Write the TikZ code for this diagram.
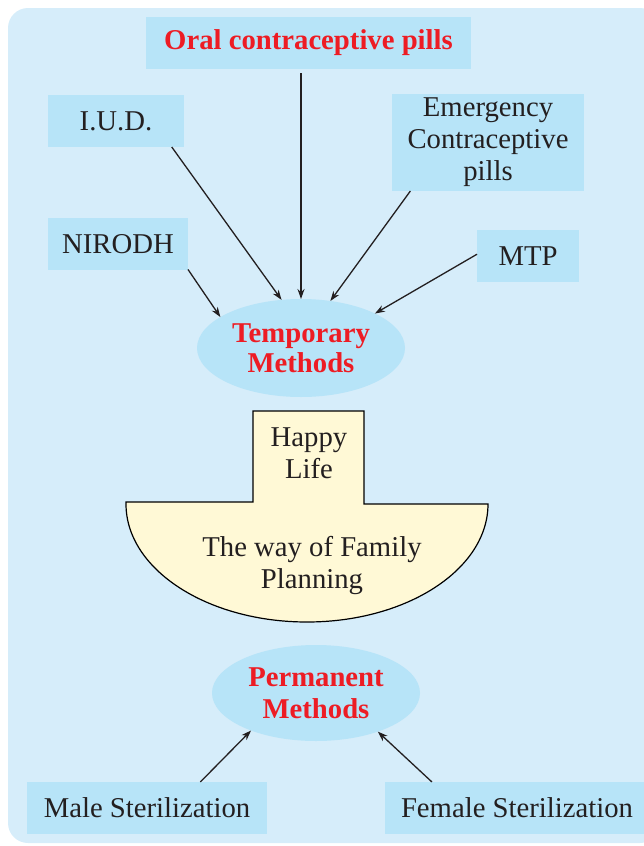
\documentclass[tikz,border=0pt]{standalone}
\usepackage{fontspec}
\setmainfont{Liberation Serif}
\usetikzlibrary{shapes.geometric,arrows.meta}
\definecolor{bgblue}{RGB}{214,237,250}
\definecolor{boxblue}{RGB}{183,228,248}
\definecolor{headred}{RGB}{237,28,36}
\definecolor{bowlyellow}{RGB}{255,249,214}
\definecolor{inkgray}{RGB}{35,31,32}

\begin{document}
\begin{tikzpicture}[x=1bp, y=-1bp, >={Stealth[length=10bp,width=7bp]},
	every node/.style={inner sep=0, outer sep=0, text=inkgray, font=\fontsize{28.7bp}{32bp}\selectfont, align=center},
	box/.style={fill=boxblue, rectangle, minimum height=52bp},
	oval/.style={fill=boxblue, ellipse, text=headred, font=\fontsize{28.7bp}{32bp}\selectfont\bfseries}]
		
		%Background
		\clip (0,0) rectangle (644,846);
		\fill[bgblue, rounded corners=20bp] (8,8) rectangle (660,843);
		
		%Nodes
		\node[box, minimum width=325bp, text=headred, font=\fontsize{28.7bp}{32bp}\selectfont\bfseries] (11) at (308.5,43) {\raisebox{-2bp}{Oral contraceptive pills}};
		\node[box, minimum width=136bp] (12) at (116,121) {I.U.D.};
		\node[box, minimum width=192bp, minimum height=97bp] (13) at (488,142.5) {Emergency\\Contraceptive\\pills};
		\node[box, minimum width=140bp] (14) at (118,244) {NIRODH};
		\node[box, minimum width=102bp] (15) at (528,256) {MTP};
		\node[oval, minimum width=208bp, minimum height=98bp] (1) at (301,348) {\raisebox{-3bp}{\shortstack{Temporary\\[1bp]Methods}}};
		
		%Bowl
		\draw[line width=1.2bp, fill=bowlyellow] (126,502) -- (253,502) -- (253,411) -- (364,411) -- (364,504) -- (488,504)
			arc[start angle=0, end angle=180, x radius=181, y radius=118] -- cycle;
		\node (21) at (309,453) {Happy\\Life};
		\node (22) at (312,565) {The way of Family\\Planning};
		
		\node[oval, minimum width=208bp, minimum height=96bp] (3) at (316,693) {Permanent\\Methods};
		\node[box, minimum width=240bp] (31) at (147,808) {Male Sterilization};
		\node[box, minimum width=264bp] (32) at (517,808) {Female Sterilization};
		
		%Lines
		\draw[->, line width=1.3bp, inkgray, shorten <=4bp] (1.north |- 11.south) -- (1.north);
		\draw[->, line width=1.3bp, inkgray] (12.-25) -- (1.112);
		\draw[->, line width=1.3bp, inkgray] (13.-148) -- (1.58);
		\draw[->, line width=1.3bp, inkgray] (14.-20) -- (1.159);
		\draw[->, line width=1.3bp, inkgray] (15.178) -- (1.25);
		\draw[->, line width=1.3bp, inkgray] (31.26) -- (3.-150);
		\draw[->, line width=1.3bp, inkgray] (32.163) -- (3.-32);
	\end{tikzpicture}
\end{document}
